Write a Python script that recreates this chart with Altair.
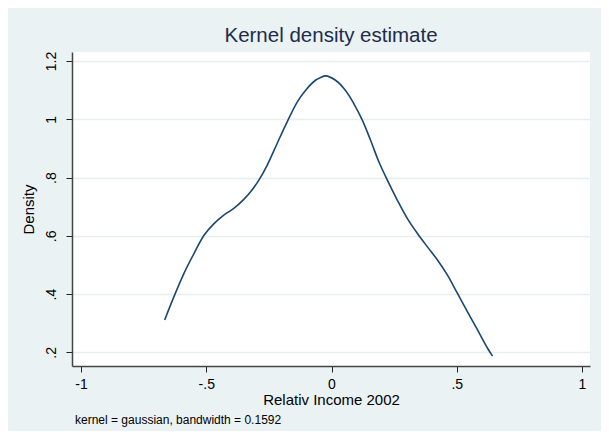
import altair as alt
import pandas as pd

# Kernel density curve
income = [-0.666, -0.629, -0.589, -0.549, -0.509, -0.469, -0.430, -0.390, -0.350,
          -0.323, -0.290, -0.257, -0.217, -0.177, -0.137, -0.104, -0.064, -0.044,
          -0.024, 0.016, 0.056, 0.089, 0.123, 0.156, 0.189, 0.223, 0.263, 0.303,
          0.343, 0.383, 0.423, 0.463, 0.503, 0.543, 0.583, 0.623, 0.643]
density = [0.311, 0.391, 0.471, 0.539, 0.602, 0.642, 0.671, 0.694, 0.725,
           0.751, 0.791, 0.842, 0.917, 0.991, 1.059, 1.099, 1.134, 1.143,
           1.149, 1.134, 1.099, 1.054, 0.997, 0.928, 0.854, 0.791, 0.722, 0.659,
           0.608, 0.562, 0.517, 0.465, 0.402, 0.339, 0.277, 0.214, 0.187]

x_ticks = [-1, -0.5, 0, 0.5, 1]
y_ticks = [0.2, 0.4, 0.6, 0.8, 1.0, 1.2]
footnote = ["kernel = gaussian, bandwidth = 0.1592"]

df = pd.DataFrame({"income": income, "density": density})
note_df = pd.DataFrame({"note": footnote})

FONT = "Liberation Sans"
W, H = 518, 314
LABEL_EXPR = "replace(replace(format(datum.value, '~g'), '\u2212', '-'), '0.', '.')"

x_enc = alt.X(
    "income:Q",
    title="Relativ Income 2002",
    scale=alt.Scale(domain=[-1.036, 1.032], nice=False, zero=False),
    axis=alt.Axis(
        values=x_ticks,
        labelExpr=LABEL_EXPR,
        grid=False,
        tickSize=6,
        tickColor="#222222",
        domainColor="#444444",
        domainWidth=1.5,
        labelPadding=5,
        labelFontSize=14,
        labelColor="#000000",
        titleFontSize=15,
        titleFontWeight="normal",
        titleColor="#000000",
        titlePadding=1,
        labelFont=FONT,
        titleFont=FONT,
    ),
)
y_enc = alt.Y(
    "density:Q",
    title="Density",
    scale=alt.Scale(domain=[0.153, 1.231], nice=False, zero=False),
    axis=alt.Axis(
        values=y_ticks,
        labelExpr=LABEL_EXPR,
        grid=True,
        gridColor="#E6EEF0",
        gridWidth=1.5,
        tickSize=6,
        tickColor="#222222",
        domainColor="#444444",
        domainWidth=1.5,
        labelAngle=-90,
        labelAlign="center",
        labelBaseline="alphabetic",
        labelPadding=11,
        labelFontSize=14,
        labelColor="#000000",
        titleFontSize=15,
        titleFontWeight="normal",
        titleColor="#000000",
        titlePadding=8,
        labelFont=FONT,
        titleFont=FONT,
    ),
)

curve = alt.Chart(df).mark_line(color="#1A476F", strokeWidth=1.6, interpolate="catmull-rom").encode(
    x=x_enc, y=y_enc
)

note = alt.Chart(note_df).mark_text(
    align="left", baseline="middle", fontSize=12, font=FONT, color="#000000"
).encode(
    text="note:N",
    x=alt.value(3),
    y=alt.value(H + 54),
)

chart = alt.layer(curve, note).properties(
    width=W,
    height=H,
    title=alt.TitleParams(
        "Kernel density estimate",
        fontSize=20.5,
        font=FONT,
        fontWeight="normal",
        color="#1E2B4C",
        anchor="middle",
        offset=5,
    ),
    autosize=alt.AutoSizeParams(type="none"),
    padding={"left": 64, "top": 44, "right": 11, "bottom": 65},
).configure(
    background="#EAF2F3",
).configure_view(
    fill="#FFFFFF",
    stroke=None,
)

chart.save("out.html", embed_options={"renderer": "svg", "actions": False})
